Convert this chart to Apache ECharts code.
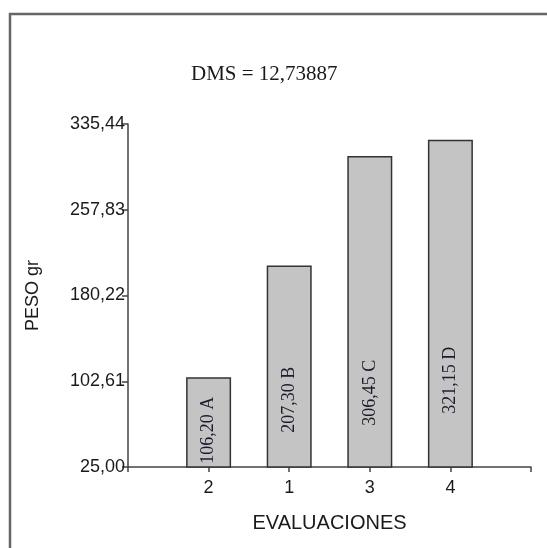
<!DOCTYPE html>
<html>
<head>
<meta charset="utf-8">
<script src="https://cdn.jsdelivr.net/npm/echarts@6/dist/echarts.min.js"></script>
<style>
  html, body { margin: 0; padding: 0; background: #fff; }
  #chart { width: 547px; height: 548px; }
</style>
</head>
<body>
<div id="chart"></div>
<script>
// data
var categories = ['2', '1', '3', '4'];
var peso = [106.20, 207.30, 306.45, 321.15];
var grupos = ['A', 'B', 'C', 'D'];
var yTicks = [25.00, 102.61, 180.22, 257.83, 335.44];
var dms = '12,73887';

// label lift above the base, per bar (style only)
var labelLift = [4, 35, 42, 54];

function coma(v) {
  return v.toFixed(2).replace('.', ',');
}

var chart = echarts.init(document.getElementById('chart'));

chart.setOption({
  animation: false,
  backgroundColor: '#fff',
  title: {
    text: 'DMS = ' + dms,
    left: 186,
    top: 59,
    textStyle: {
      fontFamily: 'Liberation Serif',
      fontSize: 21,
      fontWeight: 'normal',
      color: '#1a1a1a'
    }
  },
  graphic: [{
    type: 'rect',
    shape: { x: 10, y: 14, width: 600, height: 600 },
    style: { fill: 'none', stroke: '#666', lineWidth: 2.5 },
    silent: true
  }],
  grid: { left: 128, right: 16, top: 124, bottom: 81 },
  xAxis: {
    type: 'value',
    min: 0,
    max: 5,
    interval: 1,
    name: 'EVALUACIONES',
    nameLocation: 'middle',
    nameGap: 46,
    nameTextStyle: { fontFamily: 'Liberation Sans', fontSize: 20, color: '#1a1a1a' },
    splitLine: { show: false },
    axisLine: { lineStyle: { color: '#444', width: 1.5 } },
    axisTick: { length: 5, lineStyle: { color: '#444', width: 1.5 } },
    axisLabel: {
      margin: 12,
      fontFamily: 'Liberation Sans',
      fontSize: 18,
      color: '#1a1a1a',
      formatter: function (v) { return categories[v - 1] || ''; }
    }
  },
  yAxis: {
    type: 'value',
    min: yTicks[0],
    max: yTicks[yTicks.length - 1],
    name: 'PESO gr',
    nameLocation: 'middle',
    nameGap: 86,
    nameTextStyle: { fontFamily: 'Liberation Sans', fontSize: 18, color: '#1a1a1a' },
    splitLine: { show: false },
    axisLine: { show: true, lineStyle: { color: '#444', width: 1.5 } },
    axisTick: { length: 6, customValues: yTicks, lineStyle: { color: '#444', width: 1.5 } },
    axisLabel: {
      margin: 3,
      fontFamily: 'Liberation Sans',
      fontSize: 18,
      color: '#1a1a1a',
      customValues: yTicks,
      formatter: function (v) { return coma(v); }
    }
  },
  series: [{
    type: 'bar',
    barWidth: 45,
    itemStyle: { color: '#c4c4c4', borderColor: '#333', borderWidth: 1.5 },
    data: peso.map(function (v, i) {
      return {
        value: [i + 1, v],
        label: { distance: labelLift[i] }
      };
    }),
    label: {
      show: true,
      position: 'insideBottom',
      rotate: 90,
      align: 'left',
      verticalAlign: 'middle',
      fontFamily: 'Liberation Serif',
      fontSize: 18,
      color: '#1c1c2c',
      formatter: function (p) {
        return coma(peso[p.dataIndex]) + ' ' + grupos[p.dataIndex];
      }
    }
  }]
});
</script>
</body>
</html>
